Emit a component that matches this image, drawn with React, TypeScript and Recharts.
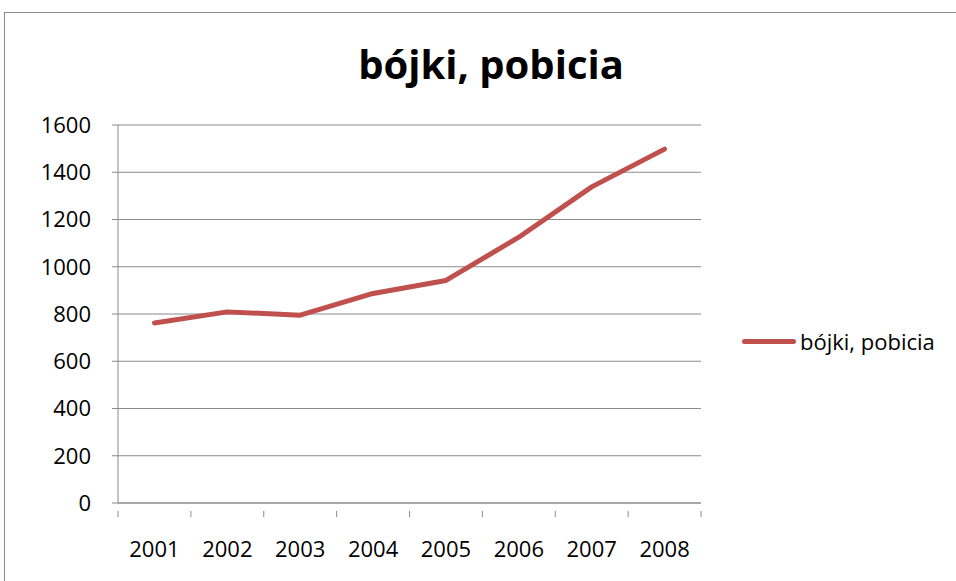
import { LineChart, Line, XAxis, YAxis, CartesianGrid } from 'recharts';

const years = ['2001', '2002', '2003', '2004', '2005', '2006', '2007', '2008'];
const fights = [762, 809, 795, 887, 942, 1125, 1338, 1498];
const yTicks = [0, 200, 400, 600, 800, 1000, 1200, 1400, 1600];
const seriesName = 'bójki, pobicia';
const title = 'bójki, pobicia';

const data = years.map((y, i) => ({ year: y, value: fights[i] }));

const W = 956;
const H = 581;
const PLOT_LEFT = 118;
const PLOT_RIGHT = 701;
const PLOT_TOP = 125;
const PLOT_BOTTOM = 503;
const BAND = (PLOT_RIGHT - PLOT_LEFT) / years.length;
const FONT = '"Open Sans", sans-serif';
const GRID = '#8a8a8a';
const RED = '#c0504d';

const XTick = (props: any) => {
  const { x, y, payload, index } = props;
  const left = x - BAND / 2;
  const right = x + BAND / 2;
  return (
    <g>
      <line x1={left} y1={y} x2={left} y2={y + 6} stroke={GRID} strokeWidth={1} />
      {index === years.length - 1 && (
        <line x1={right} y1={y} x2={right} y2={y + 6} stroke={GRID} strokeWidth={1} />
      )}
      <text x={x} y={y + 46} textAnchor="middle" fontSize={22} fontFamily={FONT} fill="#000">
        {payload.value}
      </text>
    </g>
  );
};

const App = () => {
  return (
    <div style={{ position: 'absolute', left: 0, top: 0, width: W, height: H, background: '#fff', overflow: 'hidden' }}>
      <div
        style={{
          position: 'absolute',
          left: 4,
          top: 12,
          width: W,
          height: H,
          borderLeft: '1px solid #888',
          borderTop: '1px solid #888',
        }}
      />
      <LineChart
        width={W}
        height={H}
        data={data}
        margin={{ top: PLOT_TOP, right: W - PLOT_RIGHT, bottom: 0, left: 18 }}
        style={{ position: 'absolute', left: 0, top: 0 }}
      >
        <text x={491} y={79} textAnchor="middle" fontSize={40} fontWeight="bold" fontFamily={FONT} fill="#000">
          {title}
        </text>
        <CartesianGrid vertical={false} stroke={GRID} strokeWidth={1} />
        <XAxis
          dataKey="year"
          padding={{ left: BAND / 2, right: BAND / 2 }}
          axisLine={{ stroke: GRID, strokeWidth: 1 }}
          tickLine={false}
          tick={<XTick />}
          interval={0}
          height={H - PLOT_BOTTOM}
        />
        <YAxis
          domain={[0, 1600]}
          ticks={yTicks}
          width={100}
          axisLine={{ stroke: GRID, strokeWidth: 1 }}
          tickLine={{ stroke: GRID, strokeWidth: 1 }}
          tickSize={6}
          tickMargin={21}
          tick={{ fontSize: 22, fontFamily: FONT, fill: '#000' }}
          interval={0}
        />
        <Line
          type="linear"
          dataKey="value"
          name={seriesName}
          stroke={RED}
          strokeWidth={5}
          strokeLinecap="round"
          strokeLinejoin="round"
          dot={false}
          activeDot={false}
          isAnimationActive={false}
        />
      </LineChart>
      <div
        style={{
          position: 'absolute',
          left: 742,
          top: 326,
          height: 30,
          display: 'flex',
          alignItems: 'center',
          fontFamily: FONT,
          fontSize: 22,
          color: '#000',
        }}
      >
        <span style={{ display: 'inline-block', width: 54, height: 5, borderRadius: 3, background: RED, marginRight: 4 }} />
        <span>{seriesName}</span>
      </div>
    </div>
  );
};

export default App;
